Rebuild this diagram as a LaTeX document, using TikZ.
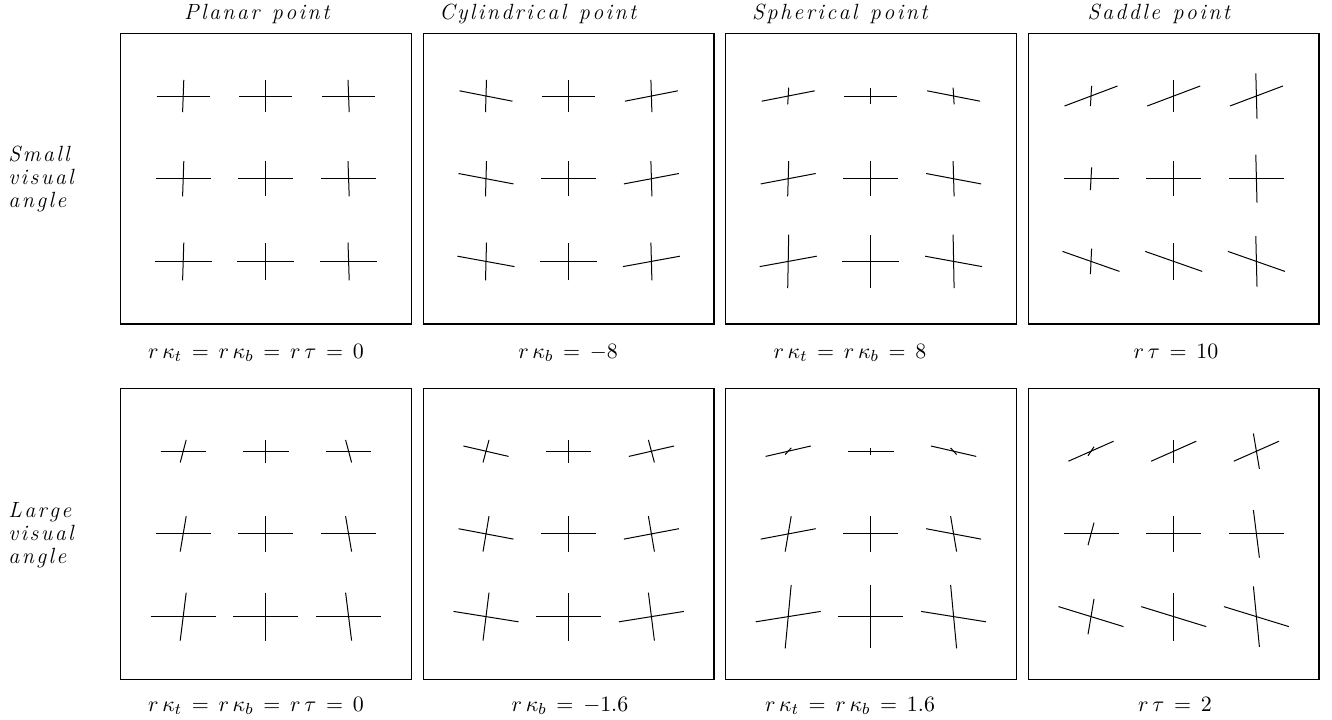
\documentclass[tikz,border=0pt]{standalone}
\usepackage{fontspec}
\usetikzlibrary{positioning}

\newdimen\letterkern \letterkern=1.2pt
\newcommand{\spaced}[1]{\expandafter\spacedloop#1\relax}
\def\spacedloop#1{\ifx\relax#1\else#1\kern\letterkern\expandafter\spacedloop\fi}
\newcommand{\eqlabel}[1]{$\thickmuskip=8mu\relax #1$}
\newcommand{\rk}{r\mkern3mu\kappa}
% #1 tilt per column, #2 tilt per row, #3 lean of short bar, #4 rows
\newcommand{\crossgrid}[4]{%
  \foreach \row/\hx/\la/\lb/\lc in {#4}{
    \foreach \col/\len in {-1/\la,0/\lb,1/\lc}{
      \pgfmathsetmacro{\cx}{\col*82.7}
      \pgfmathsetmacro{\cy}{\row*82.7}
      \pgfmathsetmacro{\hy}{#1*\col+#2*\row}
      \pgfmathsetmacro{\vx}{-#3*\col}
      \draw[bar] ({\cx-(\hx)},{\cy-(\hy)}) -- ({\cx+(\hx)},{\cy+(\hy)});
      \draw[bar] ({\cx-(\vx)},{\cy+(\len)}) -- ({\cx+(\vx)},{\cy-(\len)});
    }}}

\begin{document}
\begin{tikzpicture}[
  x=0.5pt, y=-0.5pt,
  panel/.style={draw, line width=0.6pt, minimum width=145.25pt, minimum height=145.35pt, inner sep=0pt},
  bar/.style={line width=0.5pt},
  title/.style={font=\fontsize{11}{13}\selectfont\itshape, anchor=base, inner sep=0pt},
  side/.style={font=\fontsize{11}{13}\selectfont\itshape, anchor=base west, inner sep=0pt},
  eq/.style={font=\fontsize{11}{13}\selectfont, anchor=base, inner sep=0pt}
]
\useasboundingbox (0,0) rectangle (1332,719);

% panels
\node[panel] (planarS) at (265.9,178.7) {};
\node[panel] (cylS)    at (568.7,178.7) {};
\node[panel] (sphS)    at (870.9,178.7) {};
\node[panel] (sadS)    at (1173.7,178.7) {};
\node[panel] (planarL) at (265.9,533.9) {};
\node[panel] (cylL)    at (568.7,533.9) {};
\node[panel] (sphL)    at (870.9,533.9) {};
\node[panel] (sadL)    at (1173.7,533.9) {};

% crosses, small visual angle
\begin{scope}[shift={(planarS.center)}]
  \crossgrid{0}{0}{0.6}{-1/26.5/16.2/16.2/16.2, 0/27.5/17.6/17.6/17.6, 1/28.5/18.9/18.9/18.9}
\end{scope}
\begin{scope}[shift={(cylS.center)}]
  \crossgrid{-5.2}{0}{0.5}{-1/26.5/16.2/16.2/16.2, 0/27.5/17.6/17.6/17.6, 1/28.5/18.9/18.9/18.9}
\end{scope}
\begin{scope}[shift={(sphS.center)}]
  \crossgrid{5.2}{0}{0.5}{-1/26.5/8.3/8.3/8.3, 0/27.5/17.6/17.6/17.6, 1/28.5/26.8/26.8/26.8}
\end{scope}
\begin{scope}[shift={(sadS.center)}]
  \crossgrid{0}{10}{0.6}{-1/26.5/10.2/16.2/22.7, 0/27.5/11.3/17.6/24, 1/28.5/12.8/18.9/25.2}
\end{scope}

% crosses, large visual angle
\begin{scope}[shift={(planarL.center)}]
  \crossgrid{0}{0}{3}{-1/22.6/11.3/11.3/11.3, 0/27.5/17.7/17.7/17.7, 1/32.5/24/24/24}
\end{scope}
\begin{scope}[shift={(cylL.center)}]
  \crossgrid{-5.2}{0}{3}{-1/22.6/11.3/11.3/11.3, 0/27.5/17.7/17.7/17.7, 1/32.5/24/24/24}
\end{scope}
\begin{scope}[shift={(sphL.center)}]
  \crossgrid{5.2}{0}{3}{-1/22.6/3.3/3.3/3.3, 0/27.5/17.7/17.7/17.7, 1/32.5/31.8/31.8/31.8}
\end{scope}
\begin{scope}[shift={(sadL.center)}]
  \crossgrid{0}{10}{3}{-1/22.6/4.5/11.3/17.7, 0/27.5/11.3/17.7/23.8, 1/32.5/17.7/24/30.2}
\end{scope}

% column titles
\node[title] (tPlanar) at (258,19)  {\spaced{Planar~point}};
\node[title] (tCyl)    at (539,19)  {\spaced{Cylindrical~point}};
\node[title] (tSph)    at (841,19)  {\spaced{Spherical~point}};
\node[title] (tSad)    at (1160,19) {\spaced{Saddle~point}};

% row labels
\foreach \w [count=\i] in {Small,visual,angle}
  \node[side] (small\i) at (8,{161+23*(\i-1)}) {\spaced{\w}};
\foreach \w [count=\i] in {Large,visual,angle}
  \node[side] (large\i) at (8,{517+23*(\i-1)}) {\spaced{\w}};

% parameter values
\node[eq] (vPlanarS) at (256,358)  {\eqlabel{\rk_t = \rk_b = r\mkern3mu\tau = 0}};
\node[eq] (vCylS)    at (568,358)  {\eqlabel{\rk_b = -8}};
\node[eq] (vSphS)    at (850,358)  {\eqlabel{\rk_t = \rk_b = 8}};
\node[eq] (vSadS)    at (1176,358) {\eqlabel{r\mkern3mu\tau = 10}};
\node[eq] (vPlanarL) at (256,711)  {\eqlabel{\rk_t = \rk_b = r\mkern3mu\tau = 0}};
\node[eq] (vCylL)    at (570,711)  {\eqlabel{\rk_b = -1.6}};
\node[eq] (vSphL)    at (850,711)  {\eqlabel{\rk_t = \rk_b = 1.6}};
\node[eq] (vSadL)    at (1175,711) {\eqlabel{r\mkern3mu\tau = 2}};
\end{tikzpicture}
\end{document}
